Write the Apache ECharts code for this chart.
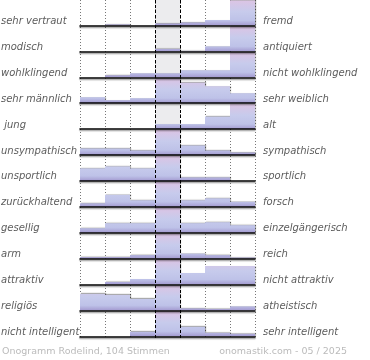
<!DOCTYPE html>
<html><head><meta charset="utf-8">
<script src="https://cdn.jsdelivr.net/npm/echarts@6/dist/echarts.min.js"></script>
<style>html,body{margin:0;padding:0;background:#fff}#c{width:370px;height:360px}</style>
</head><body><div id="c"></div>
<script>
var columns = ['1','2','3','4','5','6','7'];
var leftLabels = ['sehr vertraut','modisch','wohlklingend','sehr männlich',' jung','unsympathisch','unsportlich','zurückhaltend','gesellig','arm','attraktiv','religiös','nicht intelligent'];
var rightLabels = ['fremd','antiquiert','nicht wohlklingend','sehr weiblich','alt','sympathisch','sportlich','forsch','einzelgängerisch','reich','nicht attraktiv','atheistisch','sehr intelligent'];
// bar heights relative to each row's maximum (=100)
var row1 = [0, 4, 0, 8, 12, 22, 100];
var row2 = [0, 0, 0, 10, 2, 20, 100];
var row3 = [0, 8, 16, 16, 28, 28, 100];
var row4 = [24, 12, 20, 100, 82, 68, 40];
var row5 = [0, 0, 0, 20, 20, 50, 100];
var row6 = [26, 26, 18, 100, 38, 18, 10];
var row7 = [50, 58, 50, 100, 14, 14, 0];
var row8 = [14, 48, 26, 100, 26, 34, 20];
var row9 = [18, 38, 38, 100, 38, 42, 30];
var row10 = [6, 6, 14, 100, 20, 14, 4];
var row11 = [0, 10, 22, 100, 46, 74, 74];
var row12 = [66, 62, 46, 100, 8, 6, 16];
var row13 = [0, 0, 18, 100, 38, 14, 10];
var rows = [row1,row2,row3,row4,row5,row6,row7,row8,row9,row10,row11,row12,row13];
var footerLeft = 'Onogramm Rodelind, 104 Stimmen';
var footerRight = 'onomastik.com - 05 / 2025';

var L = 80, W = 175, RH = 25, B0 = 25.5, STEP = 25.9;
var grids = [], xAxes = [], yAxes = [], series = [], titles = [];
// background grid
grids.push({left: L, width: W, top: 0, height: 338});
xAxes.push({type:'category', gridIndex:0, data: columns, boundaryGap:true,
  axisLine:{show:false}, axisTick:{show:false}, axisLabel:{show:false},
  splitLine:{show:true, lineStyle:{color:'#777', type:[1,2], width:1}},
  splitArea:{show:true, areaStyle:{color:['rgba(0,0,0,0)','rgba(0,0,0,0)','rgba(0,0,0,0)','#ececee','rgba(0,0,0,0)','rgba(0,0,0,0)','rgba(0,0,0,0)']}}
});
xAxes.push({type:'category', gridIndex:0, position:'top', data: columns, boundaryGap:true, z:10,
  axisLine:{show:false}, axisTick:{show:false}, axisLabel:{show:false},
  splitLine:{show:true, lineStyle:{color:['rgba(0,0,0,0)','rgba(0,0,0,0)','rgba(0,0,0,0)','#000','#000','rgba(0,0,0,0)','rgba(0,0,0,0)','rgba(0,0,0,0)'], type:[3,2], width:1}}
});
yAxes.push({type:'value', gridIndex:0, show:false, min:0, max:1});

rows.forEach(function(r, i){
  var base = B0 + STEP*i, top = base - RH;
  var gi = i + 1;
  grids.push({left: L, width: W, top: top, height: RH});
  xAxes.push({type:'category', gridIndex: gi, data: columns, boundaryGap:true, z:6,
    axisLine:{show:true, lineStyle:{color:'#000', width:1.6, shadowColor:'rgba(0,0,0,0.35)', shadowOffsetY:1.5, shadowBlur:1}},
    axisTick:{show:false}, axisLabel:{show:false}, splitLine:{show:false}});
  yAxes.push({type:'value', gridIndex: gi, min:0, max:100, show:false});
  series.push({type:'bar', xAxisIndex: i+2, yAxisIndex: gi, data: r, barWidth:'100%', barCategoryGap:0,
    silent:true, animation:false,
    itemStyle:{
      color:{type:'linear', global:true, x:0, y:top, x2:0, y2:base,
        colorStops:[{offset:0,color:'#dcc4e4'},{offset:0.45,color:'#c7cbec'},{offset:0.8,color:'#bec2e8'},{offset:1,color:'#a39ad0'}]},
      shadowColor:'rgba(0,0,0,0.35)', shadowOffsetX:1, shadowOffsetY:-0.5, shadowBlur:1
    }});
  titles.push({text: leftLabels[i], left: 1, top: base - 9, padding: 0,
    textStyle:{fontFamily:'DejaVu Sans', fontStyle:'italic', fontWeight:'normal', fontSize:10, color:'#5c5c5c'}});
  titles.push({text: rightLabels[i], left: 263, top: base - 9, padding: 0,
    textStyle:{fontFamily:'DejaVu Sans', fontStyle:'italic', fontWeight:'normal', fontSize:10, color:'#5c5c5c'}});
});
titles.push({text: footerLeft, left: 0, top: 347, padding:[0,0,0,2],
  textStyle:{fontFamily:'DejaVu Sans', fontWeight:'normal', fontSize:9.5, color:'#bbb'}});
titles.push({text: footerRight, right: 23, top: 347, padding:0,
  textStyle:{fontFamily:'DejaVu Sans', fontWeight:'normal', fontSize:9.5, color:'#bbb'}});

var chart = echarts.init(document.getElementById('c'), null, {renderer:'canvas'});
chart.setOption({animation:false, title: titles, grid: grids, xAxis: xAxes, yAxis: yAxes, series: series});
</script></body></html>
